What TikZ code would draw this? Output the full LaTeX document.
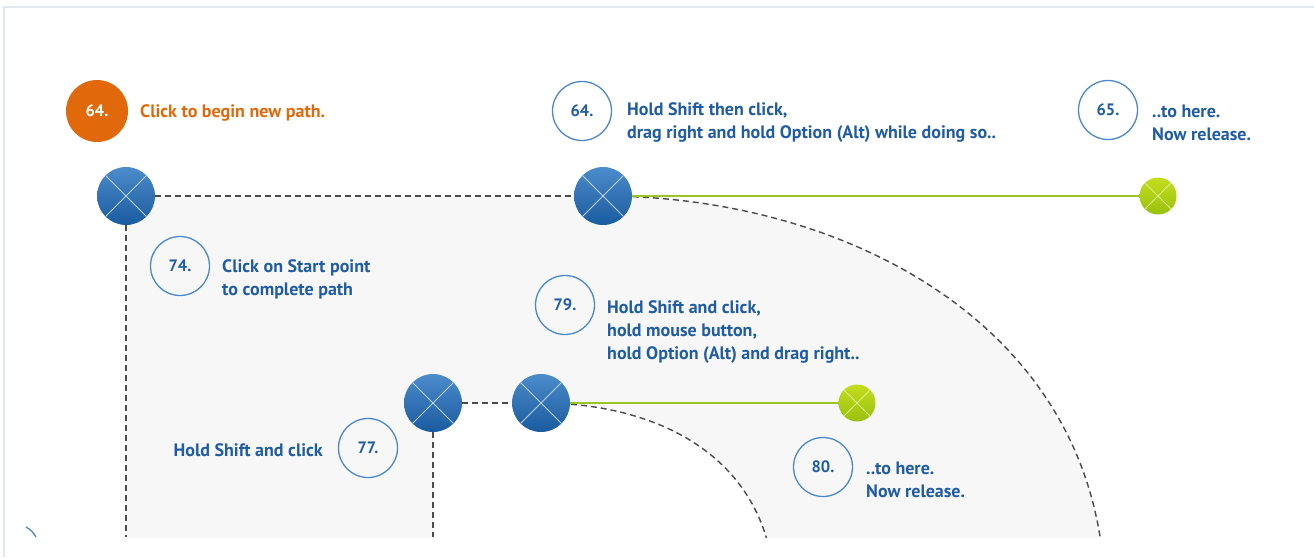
\documentclass[tikz,border=0pt]{standalone}
\usepackage{fontspec}
\setmainfont{PT Sans}
\definecolor{ringc}{HTML}{4A88C9}
\definecolor{txtc}{HTML}{1F5CA3}
\definecolor{orangec}{HTML}{E2690B}
\definecolor{mtop}{HTML}{4C8CCB}
\definecolor{mbot}{HTML}{1A5A9F}
\definecolor{gtop}{HTML}{C4DD1E}
\definecolor{gbot}{HTML}{98C10F}
\definecolor{gline}{HTML}{9CC522}
\definecolor{dashc}{HTML}{4A4A4A}
\definecolor{gfill}{HTML}{F7F7F7}
\definecolor{framec}{HTML}{E2E8EE}
\tikzset{
  marker/.style={circle, minimum size=58, inner sep=0, top color=mtop, bottom color=mbot, draw=none,
    path picture={\draw[line width=0.9, white!60!mtop] (path picture bounding box.north west) -- (path picture bounding box.south east)
      (path picture bounding box.north east) -- (path picture bounding box.south west);}},
  handle/.style={circle, minimum size=37, inner sep=0, top color=gtop, bottom color=gbot, draw=none,
    path picture={\draw[line width=0.8, white!50!gtop] (path picture bounding box.north west) -- (path picture bounding box.south east)
      (path picture bounding box.north east) -- (path picture bounding box.south west);}},
  numc/.style={circle, draw=ringc, line width=1.3, minimum size=59, inner sep=0, text=txtc,
    font=\bfseries\fontsize{16.5}{16.5}\selectfont},
  onum/.style={circle, fill=orangec, minimum size=62, inner sep=0, text=white,
    font=\bfseries\fontsize{16.5}{16.5}\selectfont},
  lab/.style={anchor=west, align=left, text=txtc, inner sep=0,
    font=\bfseries\fontsize{18}{23}\selectfont},
  dline/.style={draw=dashc, line width=1.4, dash pattern=on 6pt off 4pt},
  gconn/.style={draw=gline, line width=1.6}
}
\begin{document}
\begin{tikzpicture}[x=1pt,y=-1pt]
\useasboundingbox (0,0) rectangle (1314,557);
% frame
\draw[framec, line width=2] (4,557) -- (4,6.5) -- (1314,6.5);
% fills
\begin{scope}
\clip (0,0) rectangle (1314,537);
\fill[gfill] (126,196) -- (603,196) .. controls (850,196) and (1105,330) .. (1105,600) -- (126,600) -- cycle;
\fill[white] (433,403) -- (541,403) .. controls (656,403) and (775,456) .. (775,600) -- (433,600) -- cycle;
\end{scope}
% nodes
\node[onum] (n64a) at (97,111) {64.};
\node[anchor=west, inner sep=0, text=orangec, font=\bfseries\fontsize{18}{23}\selectfont] (t64a) at (140,113) {Click to begin new path.};
\node[numc] (n64b) at (582,111) {64.};
\node[lab] (t64b) at (627,123) {Hold Shift then click,\\drag right and hold Option (Alt) while doing so..};
\node[numc] (n65) at (1108,110) {65.};
\node[lab] (t65) at (1152,122.5) {..to here.\\Now release.};
\node[numc] (n74) at (180,266) {74.};
\node[lab] (t74) at (222,279) {Click on Start point\\to complete path};
\node[numc] (n79) at (565,305) {79.};
\node[lab] (t79) at (607,332) {Hold Shift and click,\\hold mouse button,\\hold Option (Alt) and drag right..};
\node[numc] (n77) at (368,448) {77.};
\node[lab, anchor=east] (t77) at (323,450) {Hold Shift and click};
\node[numc] (n80) at (823,467) {80.};
\node[lab] (t80) at (866,479.5) {..to here.\\Now release.};
% coordinates for free ends
\coordinate (abot) at (126,537);
\coordinate (cbot) at (433,537);
\coordinate (oend) at (1105,600);
\coordinate (iend) at (775,600);
% connectors
\begin{scope}
\clip (0,0) rectangle (1314,537);
\draw[dline] (603,196) .. controls (850,196) and (1105,330) .. (oend);
\draw[dline] (541,403) .. controls (656,403) and (775,456) .. (iend);
\end{scope}
\node[marker] (A) at (126,196) {};
\node[marker] (B) at (603,196) {};
\node[handle] (G1) at (1158,196) {};
\node[marker] (C1) at (433,403) {};
\node[marker] (C2) at (541,403) {};
\node[handle] (G2) at (857,403) {};
\draw[dline] (A) -- (B);
\draw[dline] (A) -- (abot);
\draw[dline] (C1) -- (C2);
\draw[dline] (C1) -- (cbot);
\draw[gconn] (B) -- (G1);
\draw[gconn] (C2) -- (G2);
% partial ring at bottom left
\draw[ringc, line width=1.3] (26,527) .. controls (30,529) and (33,532) .. (36,537);
\end{tikzpicture}
\end{document}
